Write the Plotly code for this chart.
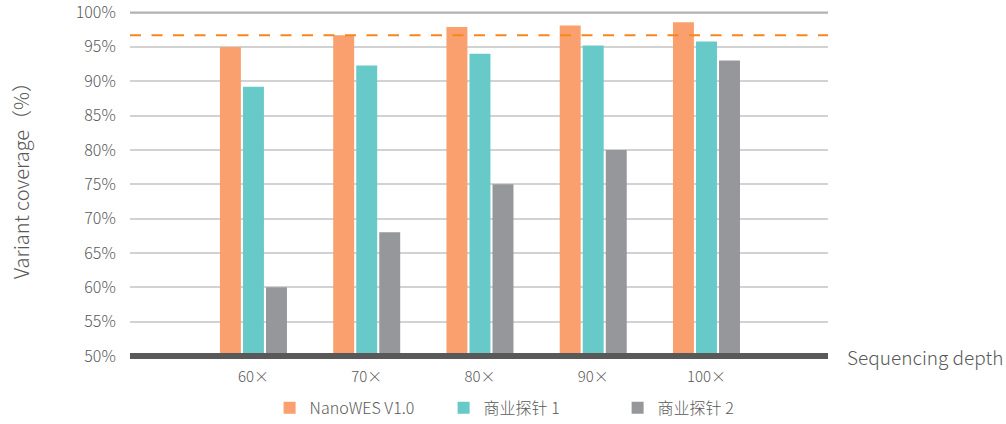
import plotly.graph_objects as go

# Sequencing depth categories and coverage values (%)
depths = ["60×", "70×", "80×", "90×", "100×"]
nanowes = [95.0, 96.7, 97.9, 98.1, 98.6]
probe1 = [89.2, 92.3, 94.0, 95.2, 95.8]
probe2 = [60.0, 68.0, 75.0, 80.0, 93.0]
target_line = 96.7
ytick_vals = [50, 55, 60, 65, 70, 75, 80, 85, 90, 95, 100]
ytick_text = [f"{v}%" for v in ytick_vals]

series = [
    ("NanoWES V1.0", nanowes, "#F9A06E"),
    ("商业探针 1", probe1, "#68C9C9"),
    ("商业探针 2", probe2, "#96979B"),
]

FONT = "Noto Sans CJK SC, Noto Sans, sans-serif"
TEXT = "#595959"

xpos = list(range(len(depths)))

fig = go.Figure()
for name, vals, color in series:
    fig.add_trace(go.Bar(
        x=xpos, y=vals, name=name,
        marker=dict(color=color, line=dict(width=0)),
    ))

fig.update_layout(
    width=1006, height=424,
    margin=dict(l=130, r=178, t=8, b=68, autoexpand=False),
    paper_bgcolor="white", plot_bgcolor="white",
    font=dict(family=FONT, color=TEXT, size=15, weight=300),
    barmode="group", bargap=0.39, bargroupgap=0.09,
    showlegend=True,
    legend=dict(
        orientation="h", xref="container", yref="container",
        x=0.268, xanchor="left", y=0.038, yanchor="middle",
        font=dict(size=16, color=TEXT, family=FONT),
        itemwidth=30, entrywidth=129, traceorder="normal",
    ),
    xaxis=dict(
        range=[-1.09, 5.073], tickvals=xpos, ticktext=depths,
        showgrid=False, zeroline=False, showline=False,
        ticks="outside", ticklen=7, tickcolor="rgba(0,0,0,0)",
        tickfont=dict(size=15, color=TEXT),
    ),
    yaxis=dict(
        range=[50, 100.66], tickvals=ytick_vals, ticktext=ytick_text,
        showgrid=True, gridcolor="#d2d2d2", gridwidth=2,
        zeroline=False, showline=False, ticklabeloverflow="allow",
        ticks="outside", ticklen=10, tickcolor="rgba(0,0,0,0)",
        tickfont=dict(size=16, color=TEXT),
    ),
    shapes=[
        dict(type="line", xref="paper", yref="y", x0=0, x1=1, y0=100, y1=100,
             line=dict(color="#b3b3b3", width=2)),
        dict(type="line", xref="paper", yref="y", x0=0, x1=1,
             y0=target_line, y1=target_line,
             line=dict(color="#F7861F", width=2, dash="11px,10.5px")),
        dict(type="line", xref="paper", yref="paper", x0=0, x1=1, y0=0, y1=0,
             line=dict(color="#595959", width=6)),
    ],
    annotations=[
        dict(text="Variant coverage（%）", xref="paper", yref="paper",
             x=-0.1576, y=0.52, xanchor="center", yanchor="middle", textangle=-90,
             showarrow=False, font=dict(size=20, color=TEXT)),
        dict(text="Sequencing depth", xref="paper", yref="paper", x=1.025, y=0,
             xanchor="left", yanchor="middle", showarrow=False,
             font=dict(size=19, color=TEXT)),
    ],
)

fig.write_html("out.html")
